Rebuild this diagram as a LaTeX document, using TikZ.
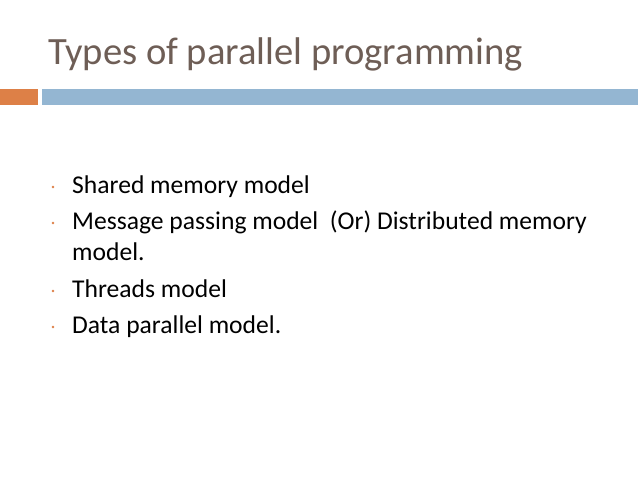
\documentclass[tikz,border=0pt]{standalone}
\usepackage{fontspec}
\setmainfont{Carlito}
\definecolor{titlec}{HTML}{6E5E56}
\definecolor{orbar}{HTML}{DD8047}
\definecolor{blbar}{HTML}{94B6D2}
\begin{document}
\begin{tikzpicture}[x=1pt,y=-1pt,
  item/.style={anchor=base west,inner sep=0pt,font=\fontsize{25.6}{30}\selectfont,text=black},
  dot/.style={circle,fill=orbar,inner sep=0pt,minimum size=2.8pt}]
\useasboundingbox (0,0) rectangle (638,478);
\fill[white] (0,0) rectangle (638,478);
\node[anchor=base west,inner sep=0pt,text=titlec,font=\fontsize{38.6}{44}\selectfont] (title) at (48,65) {Types of parallel programming};
\fill[orbar] (0,89) rectangle (38,105);
\fill[blbar] (42,89) rectangle (638,105);
\node[item] (i1) at (72,194) {Shared memory model};
\node[item] (i2) at (72,230) {Message passing model\ \ (Or) Distributed memory};
\node[item] (i2b) at (72,261) {model.};
\node[item] (i3) at (72,298) {Threads model};
\node[item] (i4) at (72,334) {Data parallel model.};
\node[dot] (d1) at (53,187) {};
\node[dot] (d2) at (53,223) {};
\node[dot] (d3) at (53,291) {};
\node[dot] (d4) at (53,327) {};
\end{tikzpicture}
\end{document}
